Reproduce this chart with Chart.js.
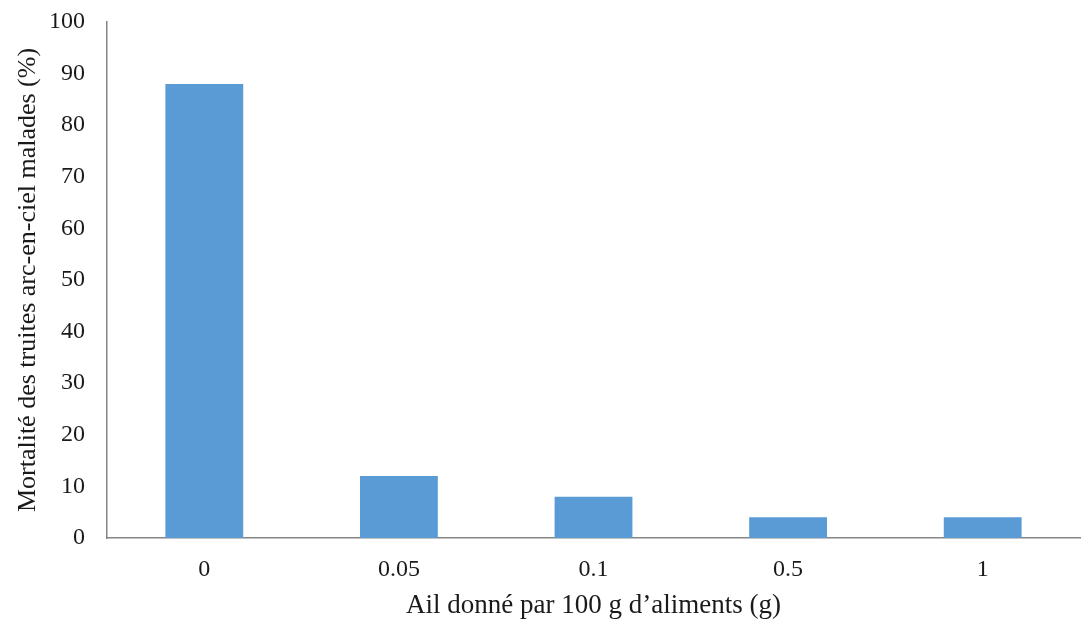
<!DOCTYPE html>
<html lang="fr">
<head>
<meta charset="utf-8">
<title>Mortalité des truites arc-en-ciel</title>
<script src="https://cdn.jsdelivr.net/npm/chart.js@4.4.1/dist/chart.umd.min.js"></script>
<style>
  html, body { margin: 0; padding: 0; background: #ffffff; }
  #wrap { width: 1081px; height: 622px; position: relative; }
</style>
</head>
<body>
<div id="wrap"><canvas id="chart"></canvas></div>
<script>
// Garlic dose (g per 100 g of feed) and resulting mortality (%)
const categories = ['0', '0.05', '0.1', '0.5', '1'];
const mortality = [88, 12, 8, 4, 4];
const yTicks = [0, 10, 20, 30, 40, 50, 60, 70, 80, 90, 100];

const xTitle = 'Ail donné par 100 g d\u2019aliments (g)';
const yTitle = 'Mortalité des truites arc-en-ciel malades (%)';

const serif = 'Liberation Serif, "Times New Roman", serif';
const axisGrey = '#868686';
const textColour = '#1a1a1a';

new Chart(document.getElementById('chart'), {
  type: 'bar',
  data: {
    labels: categories,
    datasets: [{
      data: mortality,
      backgroundColor: '#5B9BD5',
      borderWidth: 0,
      categoryPercentage: 0.8,
      barPercentage: 0.5
    }]
  },
  options: {
    responsive: true,
    maintainAspectRatio: false,
    animation: false,
    layout: { padding: { top: 22, right: 1, left: 0, bottom: 0 } },
    plugins: { legend: { display: false }, tooltip: { enabled: false } },
    scales: {
      x: {
        grid: { display: false, drawTicks: false },
        border: { display: true, color: axisGrey, width: 1.5 },
        ticks: { color: textColour, font: { family: serif, size: 24 }, padding: 17 },
        title: {
          display: true, text: xTitle, color: textColour,
          font: { family: serif, size: 27 }, padding: { top: 0, bottom: 0 }
        },
        afterFit: (s) => { s.height = 84; }
      },
      y: {
        min: 0, max: 100,
        afterBuildTicks: (s) => { s.ticks = yTicks.map(v => ({ value: v })); },
        grid: { display: false, drawTicks: false },
        border: { display: true, color: axisGrey, width: 1.5 },
        ticks: { color: textColour, font: { family: serif, size: 24 }, padding: 22 },
        title: {
          display: true, text: yTitle, color: textColour,
          font: { family: serif, size: 26 }, padding: { top: 13, bottom: 0 }
        },
        afterFit: (s) => {
          s.width = 107;
          // let the top label overhang the plot instead of pushing it down
          s.paddingTop = 0;
          s.paddingBottom = 0;
        }
      }
    }
  }
});
</script>
</body>
</html>
